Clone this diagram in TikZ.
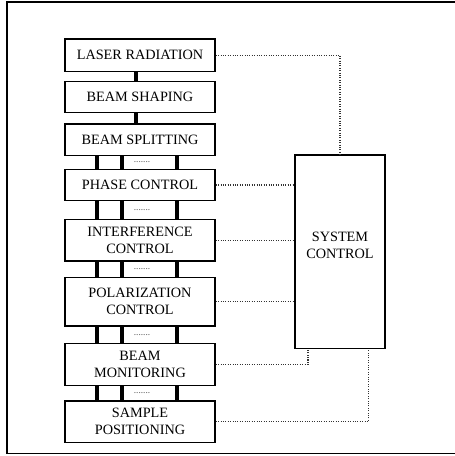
\documentclass[tikz,border=0pt]{standalone}
\usepackage{fontspec}
\setmainfont{Liberation Serif}
\usepackage{tikz}
\usetikzlibrary{calc}

\begin{document}
\begin{tikzpicture}[x=0.75pt,y=-0.75pt]
        \tikzstyle{every node}+=[inner sep=0pt, align=center, font=\fontsize{10.7}{12.8}\selectfont]
        \tikzstyle{stage}=[draw, line width=1.1pt, minimum width=112.5pt]
        \tikzstyle{link}=[line width=3pt]
        \tikzstyle{ctrl}=[densely dotted, line width=0.8pt, black!80]
        \tikzstyle{gapdots}=[font=\fontsize{7}{7}\selectfont, text=black!70]
        \useasboundingbox (0,0) rectangle (454,456);
        \draw [line width=1.2pt] (7,2) rectangle (470,453.5);
        \node [stage, minimum height=24.5pt] (laser) at (140,55.3) {LASER RADIATION};
        \node [stage, minimum height=23.3pt] (shaping) at (140,97.2) {BEAM SHAPING};
        \node [stage, minimum height=23.8pt] (splitting) at (140,139.8) {BEAM SPLITTING};
        \node [stage, minimum height=23.5pt] (phase) at (140,185) {PHASE CONTROL};
        \node [stage, minimum height=31.3pt] (interference) at (140,240.2) {INTERFERENCE\\CONTROL};
        \node [stage, minimum height=36.2pt] (polarization) at (140,301.8) {POLARIZATION\\CONTROL};
        \node [stage, minimum height=31.5pt] (monitor) at (140,364.3) {BEAM\\MONITORING};
        \node [stage, minimum height=31.3pt] (sample) at (140,421.8) {SAMPLE\\POSITIONING};
        \node [stage, minimum width=67.5pt, minimum height=145pt] (system) at (340,251.7) {};
        \node (systemtext) at (340,245) {SYSTEM\\CONTROL};
        \draw [link] ([xshift=-3pt]laser.south) -- ([xshift=-3pt]shaping.north);
        \draw [link] ([xshift=-3pt]shaping.south) -- ([xshift=-3pt]splitting.north);
        \foreach \a/\b in {splitting/phase, phase/interference, interference/polarization, polarization/monitor, monitor/sample} {
            \foreach \dx in {-32.25, -13.5, 27.75}
                \draw [link] ([xshift=\dx pt]\a.south) -- ([xshift=\dx pt]\b.north);
            \node [gapdots] (dots-\a) at ($(\a.south)!0.5!(\b.north)+(2,0)$) {.......};
        }
        \draw [ctrl] (laser.east) -| (system.north);
        \foreach \s in {phase, interference, polarization}
            \draw [ctrl] (\s.east) -- (\s.east -| system.west);
        \draw [ctrl] (monitor.east) -| ($(system.south west)!0.15!(system.south east)$);
        \draw [ctrl] (sample.east) -| ($(system.south west)!0.81!(system.south east)$);
    \end{tikzpicture}
\end{document}
